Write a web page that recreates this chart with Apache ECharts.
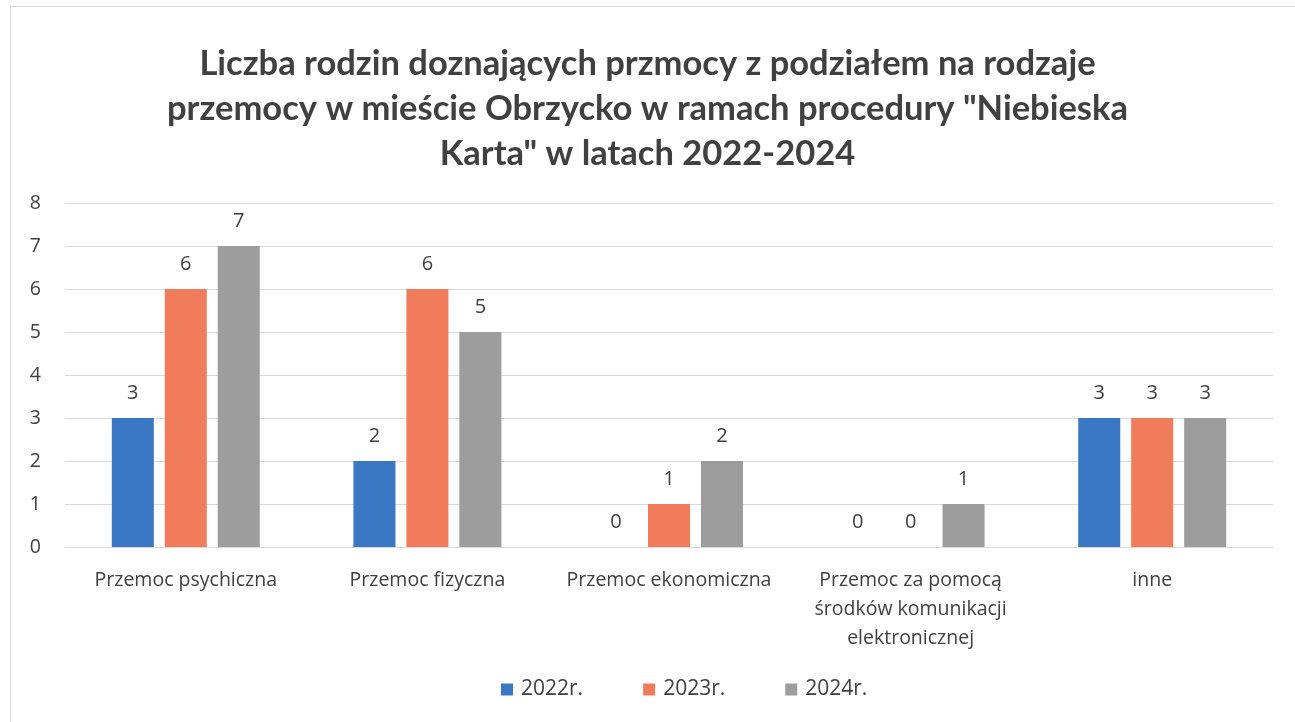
<!DOCTYPE html>
<html><head><meta charset="utf-8">
<script src="https://cdn.jsdelivr.net/npm/echarts@6/dist/echarts.min.js"></script>
<style>html,body{margin:0;padding:0;background:#fff}#c{width:1295px;height:722px}
#frame{position:absolute;left:10px;top:6px;width:1290px;height:730px;border:1px solid #d9d9d9;pointer-events:none}</style>
</head><body><div id="c"></div><div id="frame"></div>
<script>
const titleText = 'Liczba rodzin doznających przmocy z podziałem na rodzaje\nprzemocy w mieście Obrzycko w ramach procedury "Niebieska\nKarta" w latach 2022-2024';
const categories = ['Przemoc psychiczna','Przemoc fizyczna','Przemoc ekonomiczna','Przemoc za pomocą\nśrodków komunikacji\nelektronicznej','inne'];
const seriesNames = ['2022r.','2023r.','2024r.'];
const values2022 = [3,2,0,0,3];
const values2023 = [6,6,1,0,3];
const values2024 = [7,5,2,1,3];
const colors = ['#3a78c3','#f07c5c','#9d9d9d'];
const font = '"Open Sans", "DejaVu Sans", sans-serif';
const chart = echarts.init(document.getElementById('c'));
const mk = (name, data, color) => ({
  name, type:'bar', data, barWidth:'17.4%', barGap:'26%',
  itemStyle:{color},
  label:{show:true, position:'top', distance:15, color:'#404040', fontSize:20, fontFamily:font}
});
chart.setOption({
  animation:false,
  title:{text:titleText, left:'center', top:36, textStyle:{fontFamily:'Lato, "Open Sans", sans-serif', fontWeight:'bold', fontSize:34.5, lineHeight:45, color:'#404040'}},
  legend:{bottom:17, left:496, itemWidth:12, itemHeight:12, itemGap:60, icon:'rect',
    textStyle:{fontFamily:font, fontSize:21, color:'#404040', padding:[0,0,0,3]}, data:seriesNames},
  grid:{left:65, right:22, top:203, bottom:175, containLabel:false},
  xAxis:{type:'category', data:categories,
    axisLine:{lineStyle:{color:'#d9d9d9'}}, axisTick:{show:false},
    axisLabel:{interval:0, fontFamily:font, fontSize:19.5, color:'#404040', lineHeight:29, margin:19}},
  yAxis:{type:'value', min:0, max:8, interval:1,
    axisLine:{show:false}, axisTick:{show:false},
    splitLine:{lineStyle:{color:'#d9d9d9'}},
    axisLabel:{fontFamily:font, fontSize:19.5, color:'#404040', margin:24}},
  series:[mk(seriesNames[0],values2022,colors[0]), mk(seriesNames[1],values2023,colors[1]), mk(seriesNames[2],values2024,colors[2])]
});
</script></body></html>
